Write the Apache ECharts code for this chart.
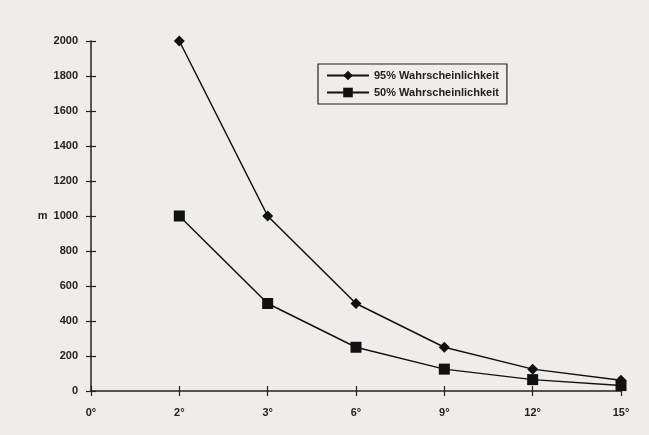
<!DOCTYPE html>
<html><head><meta charset="utf-8">
<script src="https://cdn.jsdelivr.net/npm/echarts@6/dist/echarts.min.js"></script>
<style>html,body{margin:0;padding:0;background:#eeedea;}#c{width:649px;height:435px;}</style>
</head><body><div id="c"></div>
<script>
const categories = ['0°','2°','3°','6°','9°','12°','15°'];
const p95 = [null, 2000, 1000, 500, 250, 125, 62];
const p50 = [null, 1000, 500, 250, 125, 65, 31];
const yTicks = {min:0, max:2000, interval:200};

const chart = echarts.init(document.getElementById('c'));
const txt = {color:'#222', fontFamily:'Liberation Sans, Arial, sans-serif', fontSize:11, fontWeight:'bold'};
const axLine = {show:true, onZero:false, lineStyle:{color:'#222', width:1.5}};
const tick = {color:'#222', width:1.2};
chart.setOption({
  backgroundColor:'#eeedea',
  animation:false,
  grid:{left:91, right:28, top:41, bottom:44},
  legend:{
    left:318, top:64, orient:'vertical', itemGap:6,
    padding:[6,8,6,8], borderColor:'#222', borderWidth:1.2,
    itemWidth:42, itemHeight:12,
    textStyle:txt,
    data:['95% Wahrscheinlichkeit','50% Wahrscheinlichkeit']
  },
  xAxis:[{
    type:'category', data:categories, boundaryGap:false,
    axisLine:axLine, axisTick:{show:false},
    axisLabel:Object.assign({margin:16}, txt), splitLine:{show:false}
  },{
    type:'category', data:categories, boundaryGap:false, position:'bottom', offset:-5,
    axisLine:{show:false}, axisTick:{show:true, length:10, lineStyle:tick},
    axisLabel:{show:false}, splitLine:{show:false}
  }],
  yAxis:[{
    type:'value', min:yTicks.min, max:yTicks.max, interval:yTicks.interval,
    name:'m', nameLocation:'middle', nameRotate:0, nameGap:43, nameTextStyle:txt,
    axisLine:axLine, axisTick:{show:false},
    axisLabel:Object.assign({margin:13, formatter:v=>String(v)}, txt), splitLine:{show:false}
  },{
    type:'value', min:yTicks.min, max:yTicks.max, interval:yTicks.interval, position:'left', offset:-5,
    axisLine:{show:false}, axisTick:{show:true, length:10, lineStyle:tick},
    axisLabel:{show:false}, splitLine:{show:false}
  }],
  series:[{
    name:'95% Wahrscheinlichkeit', type:'line', data:p95, xAxisIndex:0, yAxisIndex:0,
    symbol:'diamond', symbolSize:11, lineStyle:{color:'#111', width:1.5},
    itemStyle:{color:'#111'}
  },{
    name:'50% Wahrscheinlichkeit', type:'line', data:p50, xAxisIndex:0, yAxisIndex:0,
    symbol:'rect', symbolSize:11, lineStyle:{color:'#111', width:1.5},
    itemStyle:{color:'#111'}
  }]
});
</script></body></html>
